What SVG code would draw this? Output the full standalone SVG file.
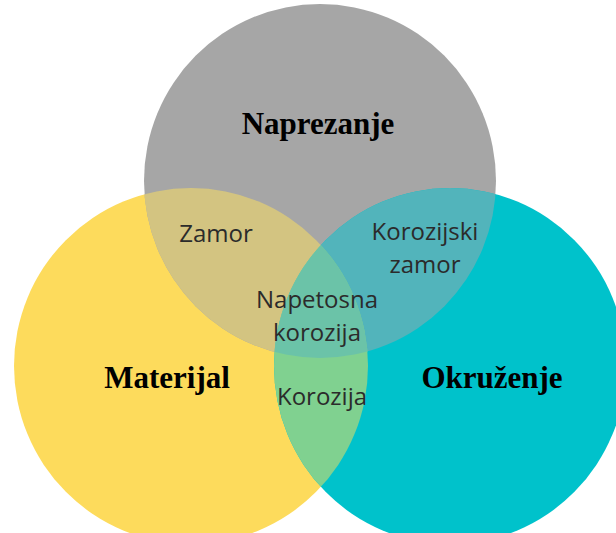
<svg xmlns="http://www.w3.org/2000/svg" width="616" height="533" viewBox="0 0 616 533">
<style>
.title{font-family:"Liberation Serif","Times New Roman",serif;font-weight:bold;font-size:31px;fill:#000;text-anchor:middle}
.lbl{font-family:"Open Sans","Noto Sans",sans-serif;font-size:24px;fill:#2b2b2b;text-anchor:middle}
</style>
<defs>
<clipPath id="cY"><ellipse cx="191" cy="366" rx="177" ry="178"/></clipPath>
<clipPath id="cG"><ellipse cx="320" cy="181" rx="176" ry="177"/></clipPath>
<clipPath id="cT"><ellipse cx="450" cy="366" rx="176" ry="178"/></clipPath>
</defs>
<rect width="616" height="533" fill="#fff"/>
<g id="materijal">
<ellipse cx="191" cy="366" rx="177" ry="178" fill="#fddb5c"/>
</g>
<g id="naprezanje">
<ellipse cx="320" cy="181" rx="176" ry="177" fill="#a6a6a6"/>
</g>
<g id="okruzenje">
<ellipse cx="450" cy="366" rx="176" ry="178" fill="#00c2cb"/>
</g>
<g id="overlaps">
<g clip-path="url(#cY)"><ellipse cx="320" cy="181" rx="176" ry="177" fill="#d3c481"/></g>
<g clip-path="url(#cG)"><ellipse cx="450" cy="366" rx="176" ry="178" fill="#52b4bb"/></g>
<g clip-path="url(#cY)"><ellipse cx="450" cy="366" rx="176" ry="178" fill="#80d190"/></g>
<g clip-path="url(#cY)"><g clip-path="url(#cG)"><ellipse cx="450" cy="366" rx="176" ry="178" fill="#6bc3a8"/></g></g>
</g>
<g id="labels">
<text class="title" x="318" y="134">Naprezanje</text>
<text class="title" x="167" y="388">Materijal</text>
<text class="title" x="492" y="388">Okruženje</text>
<text class="lbl" x="216" y="242">Zamor</text>
<text class="lbl" x="425" y="240">Korozijski</text>
<text class="lbl" x="425" y="273">zamor</text>
<text class="lbl" x="317" y="308">Napetosna</text>
<text class="lbl" x="317" y="341">korozija</text>
<text class="lbl" x="322" y="405">Korozija</text>
</g>
</svg>
